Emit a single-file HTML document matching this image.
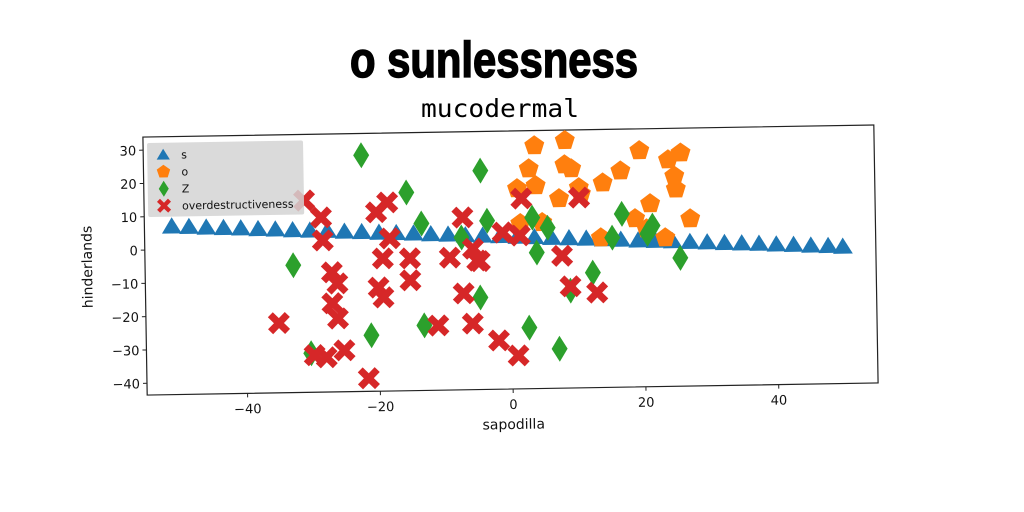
<!DOCTYPE html>
<html><head><meta charset="utf-8"><style>
html,body{margin:0;padding:0;background:#fff;width:1024px;height:512px;overflow:hidden}
svg{display:block}
text{font-family:"DejaVu Sans","Liberation Sans",sans-serif}
</style></head><body>
<svg id="chart" width="1024" height="512" viewBox="0 0 1024 512">
<text x="494" y="77" text-anchor="middle" font-weight="bold" font-size="50" textLength="288" lengthAdjust="spacingAndGlyphs" style="font-family:'Liberation Sans Narrow','Liberation Sans',sans-serif;stroke:#000;stroke-width:1.5">o sunlessness</text>
<text x="500" y="117" text-anchor="middle" font-size="25" textLength="158" lengthAdjust="spacingAndGlyphs" style="font-family:'DejaVu Sans Mono','Liberation Mono',monospace">mucodermal</text>
<g id="rot" transform="rotate(-0.95 511 260)"></g>
</svg>
<script>
const blueX=[-51,-48.4,-45.8,-43.2,-40.6,-38,-35.4,-32.8,-30.2,-27.6,-25,-22.4,-19.8,-17.2,-14.6,-12,-9.4,-6.8,-4.2,-1.6,1,3.6,6.2,8.8,11.4,14,16.6,19.2,21.8,24.4,27,29.6,32.2,34.8,37.4,40,42.6,45.2,47.8,50];
const blueY=[7,6.8,6.5,6.3,6.1,5.8,5.6,5.3,5.1,4.9,4.6,4.4,4.1,3.9,3.7,3.4,3.2,2.9,2.7,2.5,2.2,2,1.7,1.5,1.3,1,0.8,0.5,0.3,0.1,-0.2,-0.4,-0.7,-0.9,-1.1,-1.4,-1.6,-1.9,-2.1,-2.4];
const orangeX=[3.8,8.4,2.9,9.3,3.9,8.3,1.1,7.4,10.7,14.0,16.7,19.6,21.1,18.8,20.5,23.3,23.9,25.8,24.8,25.0,27.1,13.6,1.5,4.8,10.4];
const orangeY=[29.4,30.8,22.5,22.3,17.4,23.5,16.6,13.4,14.7,17.9,21.4,27.4,11.4,7.0,3.9,1.1,24.5,26.5,19.6,15.7,6.7,1.4,6.1,6.3,16.6];
const greenX=[-22.3,-4.4,-15.6,-13.4,-32.8,-7.4,-3.5,3.3,5.6,3.9,-4.7,-21.2,-30.3,-13.2,2.6,7.1,12.3,8.9,15.3,16.8,21.4,20.6,25.5];
const greenY=[27.4,22.2,16.0,6.6,-5.3,2.2,7.1,7.8,4.7,-2.7,-15.9,-26.7,-31.8,-24.0,-25.2,-31.7,-9.0,-14.3,1.4,8.5,4.8,2.4,-5.0];
const redX=[-31.0,-28.5,-28.3,-27.0,-26.2,-27.0,-26.2,-35.1,-25.3,-29.8,-28.0,-21.7,-20.2,-18.5,-18.2,-19.3,-15.2,-15.2,-20.0,-19.3,-11.1,-7.2,-9.2,-5.7,-5.1,-7.2,-5.9,-2.0,0.9,-1.2,1.7,10.4,1.4,7.7,8.9,12.9,-4.7];
const redY=[14.1,8.9,2.0,-7.6,-11.0,-16.9,-21.5,-22.6,-31.1,-32.4,-33.1,-39.6,10.2,13.1,2.3,-3.7,-3.8,-10.4,-12.4,-15.4,-24.1,8.2,-3.8,-1.2,-4.8,-14.6,-23.7,-28.9,-33.5,3.5,13.6,13.6,2.5,-3.8,-13.0,-15.0,-5.0];
const xTicks=[-40,-20,0,20,40];
const yTicks=[30,20,10,0,-10,-20,-30,-40];
const legendLabels=["s","o","Z","overdestructiveness"];

const NS="http://www.w3.org/2000/svg";
const g=document.getElementById('rot');
const L=145,R=876,T=131,B=389;
const sx=v=>511+6.64*v;
const sy=v=>244-3.33*v;
function mk(tag,attrs,parent){const e=document.createElementNS(NS,tag);for(const k in attrs)e.setAttribute(k,attrs[k]);(parent||g).appendChild(e);return e;}
function tri(x,y,s){return `M${x},${y-s} L${x+s*1.1},${y+s*0.8} L${x-s*1.1},${y+s*0.8}Z`;}
function pent(x,y,r){let p=[];for(let i=0;i<5;i++){const a=-Math.PI/2+i*2*Math.PI/5;p.push((x+r*Math.cos(a)).toFixed(1)+','+(y+r*Math.sin(a)).toFixed(1));}return 'M'+p.join(' L')+'Z';}
function dia(x,y,w,h){return `M${x},${y-h} L${x+w},${y} L${x},${y+h} L${x-w},${y}Z`;}
function cross(x,y,s,t){return `M${x-s},${y-s+t} L${x-s+t},${y-s} L${x},${y-t} L${x+s-t},${y-s} L${x+s},${y-s+t} L${x+t},${y} L${x+s},${y+s-t} L${x+s-t},${y+s} L${x},${y+t} L${x-s+t},${y+s} L${x-s},${y+s-t} L${x-t},${y}Z`;}

const frame=mk('rect',{x:L,y:T,width:R-L,height:B-T,fill:'none',stroke:'#222','stroke-width':1.2});



xTicks.forEach(v=>{
 const t=mk('line',{x1:sx(v),x2:sx(v),y1:B,y2:B+4,stroke:'#222'});
 
 
 const l=mk('text',{x:sx(v),y:B+20,'text-anchor':'middle','font-size':13,fill:'#111'});
 l.textContent=(v<0?'\u2212'+(-v):v);
 
 
});
yTicks.forEach(v=>{
 const t=mk('line',{x1:L-4,x2:L,y1:sy(v),y2:sy(v),stroke:'#222'});
 
 
 const l=mk('text',{x:L-7,y:sy(v)+5,'text-anchor':'end','font-size':13,fill:'#111'});
 l.textContent=(v<0?'\u2212'+(-v):v);
 
 
});
const xl=mk('text',{x:511,y:B+40,'text-anchor':'middle','font-size':14,fill:'#111'});
xl.textContent='sapodilla';


const yl=mk('text',{x:0,y:0,'text-anchor':'middle','font-size':14,fill:'#111',transform:`translate(${L-53},${(T+B)/2}) rotate(-90)`});
yl.textContent='hinderlands';



blueX.forEach((v,i)=>{const p=mk('path',{d:tri(sx(v),sy(blueY[i]),9),fill:'#1f77b4'});
 
 });
orangeX.forEach((v,i)=>{const p=mk('path',{d:pent(sx(v),sy(orangeY[i]),10.5),fill:'#ff7f0e'});
 
 });
greenX.forEach((v,i)=>{const p=mk('path',{d:dia(sx(v),sy(greenY[i]),8,13),fill:'#2ca02c'});
 
 });
redX.forEach((v,i)=>{const p=mk('path',{d:cross(sx(v),sy(redY[i]),11,5),fill:'#d62728'});
 
 });

const lg=mk('g',{});


mk('rect',{x:L+4,y:T+6,width:156,height:74,fill:'#d4d4d4','fill-opacity':0.85,rx:2},lg);
const cols=['#1f77b4','#ff7f0e','#2ca02c','#d62728'];
legendLabels.forEach((s,i)=>{
 const cx=L+20, cy=T+18+i*17;
 let d=i==0?tri(cx,cy,6):i==1?pent(cx,cy,7):i==2?dia(cx,cy,5,8):cross(cx,cy,7,3);
 const m=mk('path',{d:d,fill:cols[i]},lg);
 
 
 const t=mk('text',{x:L+38,y:cy+4,'font-size':11,fill:'#111'},lg);
 t.textContent=s;
 
 
});
</script>
</body></html>
